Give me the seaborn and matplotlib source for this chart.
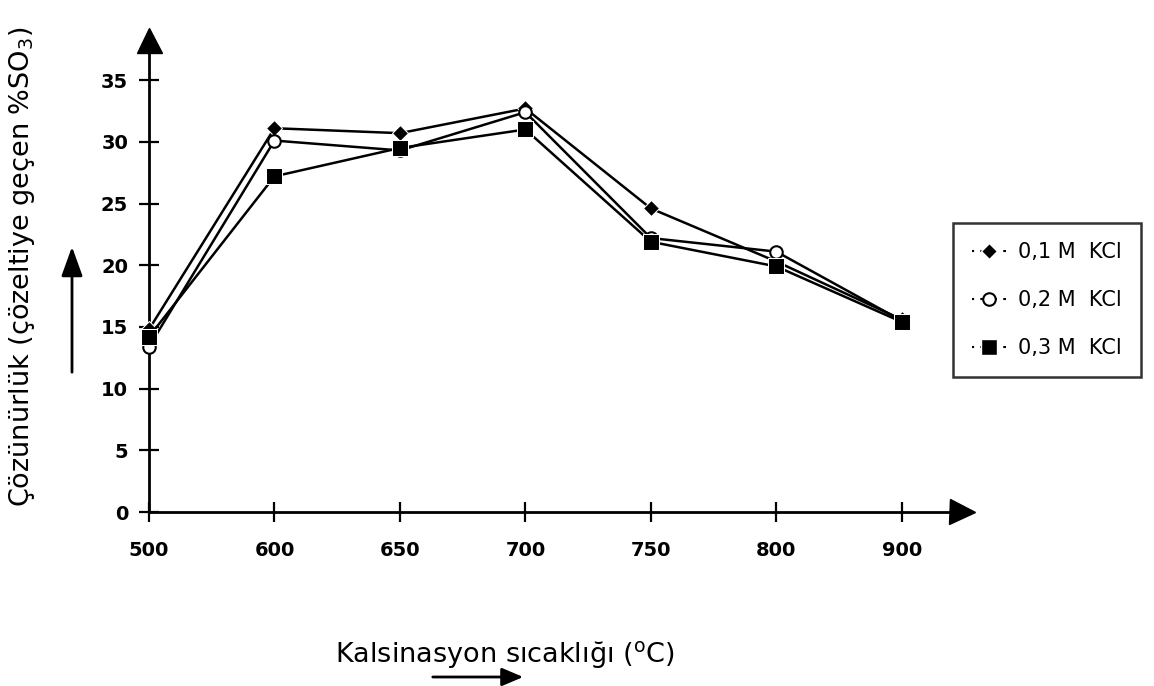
import pandas as pd
import matplotlib.pyplot as plt
import seaborn as sns
from matplotlib.lines import Line2D
from matplotlib.patches import FancyArrowPatch

# Data
temps = ["500", "600", "650", "700", "750", "800", "900"]
kcl_01 = [14.8, 31.1, 30.7, 32.7, 24.6, 20.3, 15.6]
kcl_02 = [13.4, 30.1, 29.3, 32.4, 22.2, 21.1, 15.5]
kcl_03 = [14.2, 27.2, 29.5, 31.0, 21.9, 19.9, 15.4]
series_names = ["0,1 M  KCl", "0,2 M  KCl", "0,3 M  KCl"]
y_ticks = [0, 5, 10, 15, 20, 25, 30, 35]

sns.set_style("ticks", {'axes.edgecolor': 'black', 'text.color': 'black',
                        'xtick.color': 'black', 'ytick.color': 'black',
                        'axes.labelcolor': 'black'})
plt.rcParams['font.family'] = ['DejaVu Sans']

fig = plt.figure(figsize=(11.54, 6.86), dpi=100)
ax = fig.add_axes([149 / 1154, 1 - 512 / 686, (962 - 149) / 1154, (512 - 40) / 686])

pos = list(range(len(temps)))
styles = [
    dict(marker='D', markersize=8, markerfacecolor='black', markeredgecolor='white'),
    dict(marker='o', markersize=9, markerfacecolor='white', markeredgecolor='black', markeredgewidth=1.5),
    dict(marker='s', markersize=11, markerfacecolor='black', markeredgecolor='white'),
]
for vals, st in zip([kcl_01, kcl_02, kcl_03], styles):
    df = pd.DataFrame({'temp': pos, 'val': vals})
    sns.lineplot(data=df, x='temp', y='val', ax=ax, color='black', linewidth=1.8,
                 clip_on=False, zorder=3, **st)

ax.set_xlim(0, 6.48)
ax.set_ylim(0, 38.25)
ax.set_xticks(pos)
ax.set_xticklabels(temps)
ax.set_yticks(y_ticks)
ax.set_xlabel('')
ax.set_ylabel('')
sns.despine(ax=ax)
for sp in ['left', 'bottom']:
    ax.spines[sp].set_linewidth(2)
ax.tick_params(axis='both', direction='inout', length=14, width=1.6, labelsize=14, colors='black')
ax.tick_params(axis='x', pad=14)
ax.tick_params(axis='y', pad=8)
for lab in ax.get_xticklabels() + ax.get_yticklabels():
    lab.set_fontweight('bold')

# axis arrow heads
ax.plot(1, 0, '>k', markersize=18, transform=ax.get_yaxis_transform(), clip_on=False)
ax.plot(0, 1, '^k', markersize=18, transform=ax.get_xaxis_transform(), clip_on=False)

# legend
handles = [Line2D([0], [0], color='black', linestyle=(0, (1, 3, 4, 3)), linewidth=1.5, **st)
           for st in styles]
leg = fig.legend(handles, series_names, loc='upper left', bbox_to_anchor=(943 / 1154, 1 - 213 / 686),
                 frameon=True, fancybox=False, edgecolor='black', fontsize=15,
                 handlelength=1.6, labelspacing=1.35, borderpad=0.9, handletextpad=0.6)
leg.get_frame().set_linewidth(1.8)

# axis titles with arrows
fig.text(22 / 1154, 1 - 267 / 686, 'Çözünürlük (çözeltiye geçen %SO$_3$)', rotation=90,
         ha='center', va='center', fontsize=19.5, color='black')
fig.text(505 / 1154, 1 - 655 / 686, 'Kalsinasyon sıcaklığı ($^\\mathregular{o}$C)', ha='center',
         va='center', fontsize=19.5, color='black')
fig.add_artist(FancyArrowPatch(
    (72 / 1154, 1 - 375 / 686), (72 / 1154, 1 - 244 / 686), transform=fig.transFigure,
    arrowstyle='-|>,head_length=1.8,head_width=0.65', mutation_scale=10, color='black', linewidth=2))
fig.add_artist(FancyArrowPatch(
    (430 / 1154, 1 - 677 / 686), (526 / 1154, 1 - 677 / 686), transform=fig.transFigure,
    arrowstyle='-|>,head_length=1.3,head_width=0.55', mutation_scale=10, color='black', linewidth=2))

fig.savefig('out.png', dpi=100)
